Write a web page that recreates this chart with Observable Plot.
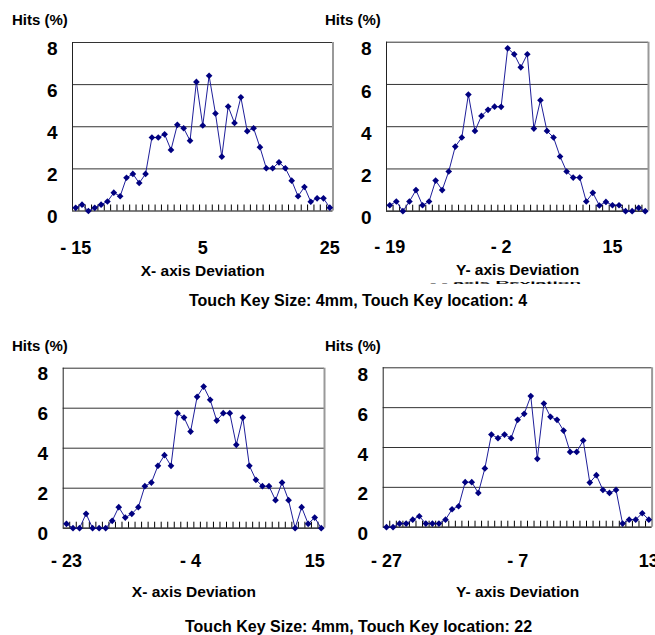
<!DOCTYPE html>
<html><head><meta charset="utf-8">
<script src="https://cdn.jsdelivr.net/npm/d3@7"></script>
<script src="https://cdn.jsdelivr.net/npm/@observablehq/plot@0.6"></script>
<style>
body{margin:0;background:#fff;}
#root{position:relative;width:655px;height:635px;overflow:hidden;font-family:"Liberation Sans",Arial,sans-serif;background:#fff;}
.abs{position:absolute;white-space:nowrap;color:#000;}
.hits{font-weight:bold;font-size:15px;line-height:16px;}
.cap{font-weight:bold;font-size:16px;line-height:18px;}
.ghost span{display:block;font-size:19px;line-height:19px;font-weight:bold;transform:scaleY(0.2);transform-origin:top left;}
</style></head><body><div id="root"></div>
<script>
// ---- data ----
const catsA = [-15,-14,-13,-12,-11,-10,-9,-8,-7,-6,-5,-4,-3,-2,-1,0,1,2,3,4,5,6,7,8,9,10,11,12,13,14,15,16,17,18,19,20,21,22,23,24,25];
const hitsA = [0.15,0.3,0,0.15,0.3,0.45,0.87,0.7,1.58,1.76,1.33,1.76,3.49,3.49,3.64,2.9,4.09,3.93,3.34,6.13,4.06,6.42,4.63,2.58,4.96,4.18,5.4,3.79,3.93,3.03,2.03,2.03,2.31,2.03,1.44,0.7,1.14,0.44,0.6,0.6,0.16];
const ticksA = [-15, 5, 25];

const catsB = [-19,-18,-17,-16,-15,-14,-13,-12,-11,-10,-9,-8,-7,-6,-5,-4,-3,-2,-1,0,1,2,3,4,5,6,7,8,9,10,11,12,13,14,15,16,17,18,19,20];
const hitsB = [0.28,0.46,0,0.46,1.0,0.28,0.46,1.45,1.0,1.88,3.06,3.49,5.52,3.8,4.51,4.8,4.95,4.94,7.71,7.43,6.81,7.43,3.91,5.25,3.8,3.49,2.59,1.88,1.59,1.59,0.46,0.87,0.27,0.44,0.28,0.28,0,0,0.16,0];
const ticksB = [-19, -2, 15];

const catsC = [-23,-22,-21,-20,-19,-18,-17,-16,-15,-14,-13,-12,-11,-10,-9,-8,-7,-6,-5,-4,-3,-2,-1,0,1,2,3,4,5,6,7,8,9,10,11,12,13,14,15,16];
const hitsC = [0.22,0,0,0.72,0,0,0,0.37,1.05,0.53,0.72,1.05,2.1,2.28,3.12,3.65,3.12,5.75,5.53,4.83,6.57,7.08,6.42,5.38,5.75,5.75,4.17,5.53,3.12,2.42,2.1,2.1,1.4,2.28,1.4,0,1.05,0.22,0.53,0];
const ticksC = [-23, -4, 15];

const catsD = [-27,-26,-25,-24,-23,-22,-21,-20,-19,-18,-17,-16,-15,-14,-13,-12,-11,-10,-9,-8,-7,-6,-5,-4,-3,-2,-1,0,1,2,3,4,5,6,7,8,9,10,11,12,13];
const hitsD = [0,0,0.18,0.18,0.38,0.55,0.18,0.18,0.18,0.38,0.9,1.05,2.26,2.26,1.72,2.95,4.65,4.47,4.65,4.47,5.39,5.69,6.58,3.43,6.21,5.54,5.39,4.85,3.78,3.78,4.35,2.24,2.61,1.87,1.72,1.87,0.18,0.38,0.38,0.7,0.38];
const ticksD = [-27, -7, 13];

const yTicks = [0, 2, 4, 6, 8];
const yLabel = "Hits (%)";
const titleX = "X- axis Deviation";
const titleY = "Y- axis Deviation";
const caption1 = "Touch Key Size: 4mm, Touch Key location: 4";
const caption2 = "Touch Key Size: 4mm, Touch Key location: 22";

// ---- layout (styles / positions) ----
const layout = [
  {cats: catsA, vals: hitsA, ticks: ticksA, title: titleX, left: 0,   top: 0,   w: 340, h: 290, mL: 72,   mT: 42,   pw: 260.5, ph: 168.5, tickDy: 37, titleDy: 65, yDy: 6},
  {cats: catsB, vals: hitsB, ticks: ticksB, title: titleY, left: 320, top: 0,   w: 335, h: 290, mL: 66,   mT: 41.7, pw: 262,   ph: 169,   tickDy: 36, titleDy: 64, yDy: 7},
  {cats: catsC, vals: hitsC, ticks: ticksC, title: titleX, left: 0,   top: 320, w: 340, h: 300, mL: 62.7, mT: 47.7, pw: 261.3, ph: 160,   tickDy: 33, titleDy: 69, yDy: 6},
  {cats: catsD, vals: hitsD, ticks: ticksD, title: titleY, left: 320, top: 320, w: 335, h: 300, mL: 62.7, mT: 47.3, pw: 268.9, ph: 159.4, tickDy: 34, titleDy: 70, yDy: 7}
];
const hitsPos = [[12, 12], [325, 12], [12, 338], [325, 338]];

const root = document.getElementById("root");
const fmt = d => d < 0 ? "- " + Math.abs(d) : String(d);

layout.forEach(p => {
  const data = p.cats.map((c, i) => ({x: c, y: p.vals[i]}));
  const x0 = p.cats[0] - 0.5, x1 = p.cats[p.cats.length - 1] + 0.5;
  const bounds = p.cats.slice(1).map(c => c - 0.5);
  const tickLen = 6 * 8 / p.ph;
  const chart = Plot.plot({
    width: p.w, height: p.h,
    marginLeft: p.mL, marginTop: p.mT,
    marginRight: p.w - p.mL - p.pw, marginBottom: p.h - p.mT - p.ph,
    style: {fontFamily: '"Liberation Sans", Arial, sans-serif', background: "transparent", overflow: "visible"},
    x: {type: "linear", domain: [x0, x1], axis: null},
    y: {domain: [0, 8], axis: null},
    marks: [
      Plot.ruleY(yTicks.filter(v => v > 0), {stroke: "#333", strokeWidth: 1}),
      Plot.ruleX(bounds, {y1: 0, y2: tickLen, stroke: "#000", strokeWidth: 1}),
      Plot.ruleX([x0], {stroke: "#222", strokeWidth: 1}),
      Plot.ruleX([x1], {stroke: "#999", strokeWidth: 2}),
      Plot.ruleY([0], {stroke: "#000", strokeWidth: 1.2}),
      Plot.line(data, {x: "x", y: "y", stroke: "#1e1e9a", strokeWidth: 1}),
      Plot.dot(data, {x: "x", y: "y", symbol: "diamond2", r: 3, fill: "#000080", stroke: "none"}),
      Plot.text(yTicks, {x: x0, y: d => d, text: d => String(d), dx: -15, dy: p.yDy, textAnchor: "end", fontSize: 19, fontWeight: "bold", fill: "#000"}),
      Plot.text(p.ticks, {x: d => d, y: 0, text: fmt, dy: p.tickDy, fontSize: 18, fontWeight: "bold", fill: "#000"}),
      Plot.text([p.title], {frameAnchor: "bottom", text: d => d, dy: p.titleDy, fontSize: 15.5, fontWeight: "bold", fill: "#000"})
    ]
  });
  chart.style.position = "absolute";
  chart.style.left = p.left + "px";
  chart.style.top = p.top + "px";
  root.appendChild(chart);
});

hitsPos.forEach(([l, t]) => {
  const d = document.createElement("div");
  d.className = "abs hits";
  d.style.left = l + "px"; d.style.top = t + "px";
  d.textContent = yLabel;
  root.appendChild(d);
});

[[caption1, 189, 292], [caption2, 185, 618]].forEach(([txt, l, t]) => {
  const d = document.createElement("div");
  d.className = "abs cap";
  d.style.left = l + "px"; d.style.top = t + "px";
  d.textContent = txt;
  root.appendChild(d);
});

// faint squashed line of text under the top-right axis title, as in the source image
const g = document.createElement("div");
g.className = "abs ghost";
g.style.left = "430px"; g.style.top = "281px";
g.innerHTML = "<span>- - axis Deviation</span>";
root.appendChild(g);
</script>
</body></html>
